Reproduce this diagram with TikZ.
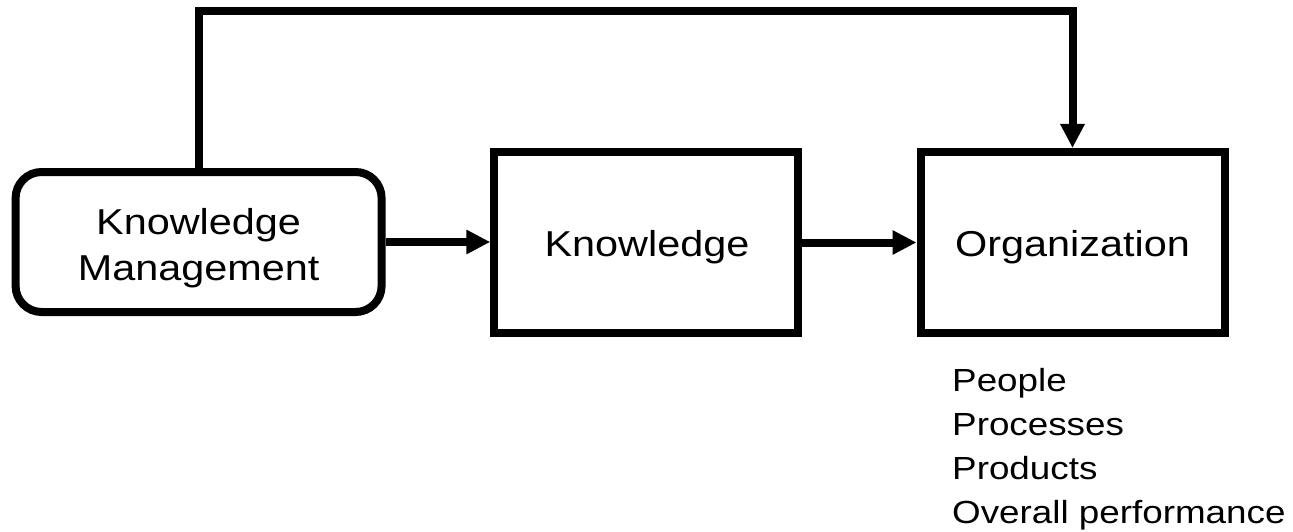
\documentclass[tikz,border=0pt]{standalone}
\usepackage{fontspec}
\usepackage{graphicx}
\setmainfont{Liberation Sans}
\usetikzlibrary{arrows.meta}
\newcommand{\widetext}[1]{\scalebox{1.15}[1]{#1}}
\begin{document}
\begin{tikzpicture}[x={(1pt,0)},y={(0,-1pt)},
  box/.style={draw=black,line width=8pt,minimum width=304pt,minimum height=181pt,inner sep=0pt},
  label36/.style={inner sep=0pt,font=\fontsize{36}{46.7}\selectfont},
  conn/.style={draw=black,line width=8pt,line join=miter,-{Triangle[length=24pt,width=23pt]}}
]
\useasboundingbox (0,0) rectangle (1293,532);
% boxes
\node[box,rounded corners=26pt,minimum width=366pt,minimum height=140pt] (km) at (198.6,242) {};
\node[box] (kn) at (646.3,242.5) {};
\node[box] (org) at (1072.5,242.5) {};
% texts
\node[label36,align=center] (kmtext) at (198.6,248.3) {\widetext{Knowledge}\\\widetext{Management}};
\node[label36,anchor=base] (kntext) at (647,256.7) {\widetext{Knowledge}};
\node[label36,anchor=base] (orgtext) at (1072.5,256) {\widetext{Organization}};
\node[inner sep=0pt,anchor=north west,align=left,font=\fontsize{32}{43.8}\selectfont] (list) at (952,368.4)
  {\widetext{People}\\\widetext{Processes}\\\widetext{Products}\\\widetext{Overall performance}};
% connectors
\coordinate (top) at (198.6,10.8);
\draw[conn] (km.east) -- (km.east -| kn.west);
\draw[conn] (kn.east) -- (org.west);
\draw[conn] (km.north) -- (top) -| (org.north);
\end{tikzpicture}
\end{document}
